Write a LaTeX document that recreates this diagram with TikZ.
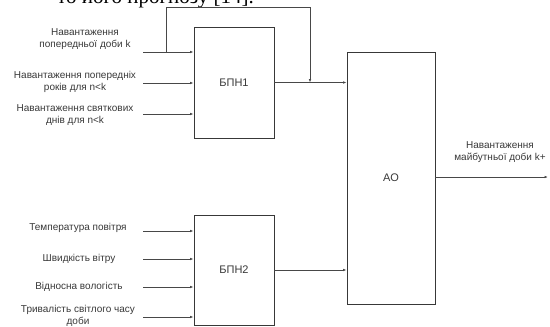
\documentclass[tikz,border=0pt]{standalone}
\usepackage{fontspec}
\setmainfont{Liberation Sans}
\newfontfamily\pagefont{Liberation Serif}
\usepackage{tikz}
\usetikzlibrary{positioning,calc,arrows.meta}
\tikzset{>={Latex[length=3.5pt,width=2.6pt]}}
\colorlet{linecol}{black!72}
\colorlet{textcol}{black!78}
\tikzstyle{block}=[draw=black,line width=0.9pt,minimum width=80pt,inner sep=0pt,font=\fontsize{11}{13}\selectfont,textcol]
\tikzstyle{signal}=[->,line width=0.7pt,linecol]
\tikzstyle{inlabel}=[align=center,textcol,font=\fontsize{10}{12.5}\selectfont,inner sep=0pt]

\begin{document}
\begin{tikzpicture}[x=1pt,y=-1pt]
	\useasboundingbox (0,0) rectangle (550,327);
	% tail of the page text above the figure
	\node[anchor=base east,inner sep=0pt,font=\pagefont\fontsize{21}{24}\selectfont] (page) at (254,3.5) {то його прогнозу [14].};

	% blocks
	\node[block,minimum height=111pt] (bpn1) at (234,82.5) {БПН1};
	\node[block,minimum height=110pt] (bpn2) at (234,270) {БПН2};
	\node[block,minimum width=88pt,minimum height=252pt] (ao) at (391,178) {АО};

	% input labels
	\node[inlabel] (l1) at (85,39) {Навантаження\\попередньої доби k};
	\node[inlabel] (l2) at (75,82) {Навантаження попередніх\\років для n<k};
	\node[inlabel] (l3) at (75,115) {Навантаження святкових\\днів для n<k};
	\node[inlabel] (l4) at (78,228) {Температура повітря};
	\node[inlabel] (l5) at (79,259) {Швидкість вітру};
	\node[inlabel] (l6) at (79,287) {Відносна вологість};
	\node[inlabel] (l7) at (78,316) {Тривалість світлого часу\\доби};
	\node[inlabel] (lout) at (500,152) {Навантаження\\майбутньої доби k+};

	% connector ends
	\coordinate (in1) at (143,52);
	\coordinate (in2) at (143,83);
	\coordinate (in3) at (143,114);
	\coordinate (in4) at (143,231);
	\coordinate (in5) at (143,259);
	\coordinate (in6) at (143,287);
	\coordinate (in7) at (143,317);
	\coordinate (tap) at (166,52);
	\coordinate (top) at (310,7);
	\coordinate (out) at (548,177);

	\draw[signal] (in1) -- (in1 -| bpn1.west);
	\draw[signal] (in2) -- (in2 -| bpn1.west);
	\draw[signal] (in3) -- (in3 -| bpn1.west);
	\draw[signal] (in4) -- (in4 -| bpn2.west);
	\draw[signal] (in5) -- (in5 -| bpn2.west);
	\draw[signal] (in6) -- (in6 -| bpn2.west);
	\draw[signal] (in7) -- (in7 -| bpn2.west);
	\draw[signal] (tap) |- (top) -- (top |- bpn1.east);
	\draw[signal] (bpn1.east) -- (bpn1.east -| ao.west);
	\draw[signal] (bpn2.east) -- (bpn2.east -| ao.west);
	\draw[signal] (ao.east |- out) -- (out);
\end{tikzpicture}
\end{document}
